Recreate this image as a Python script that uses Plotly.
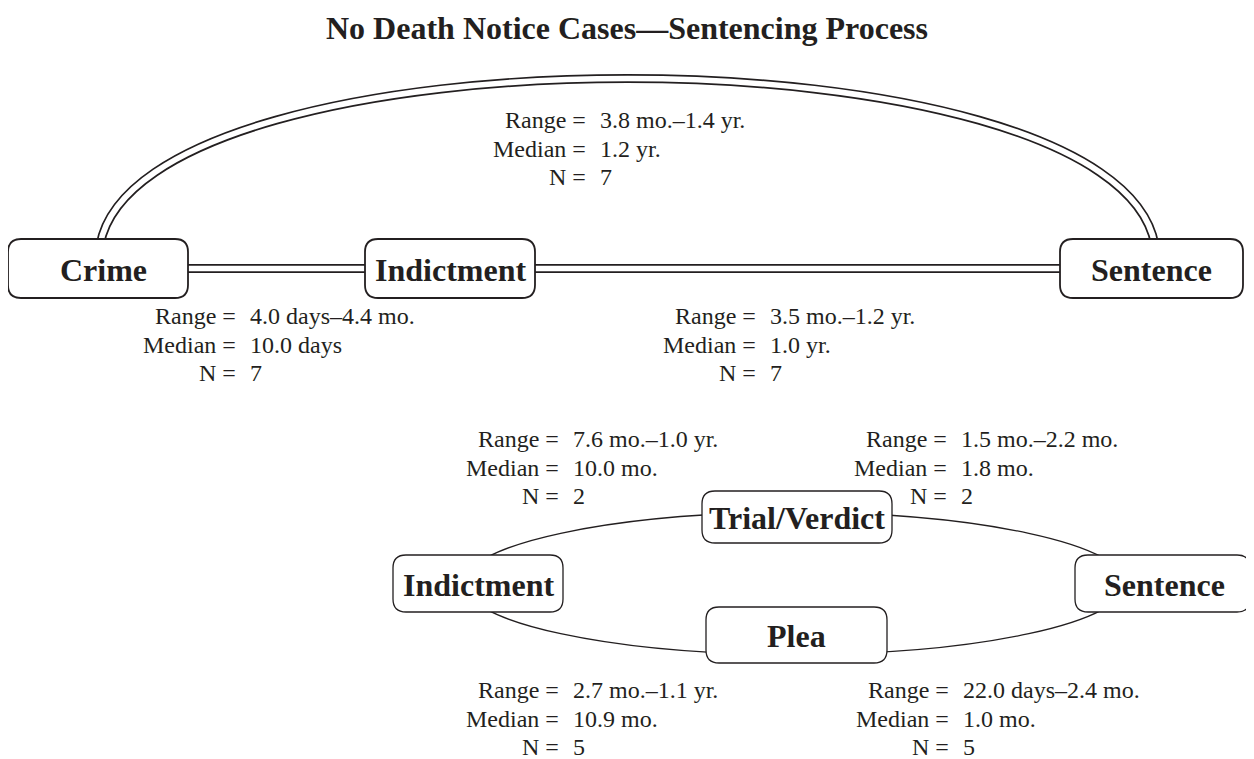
import plotly.graph_objects as go

# ---------------- data ----------------
title_text = "No Death Notice Cases—Sentencing Process"

node_names = ["Crime", "Indictment", "Sentence",
              "Indictment", "Trial/Verdict", "Plea", "Sentence"]

edge_names = ["Crime→Sentence", "Crime→Indictment", "Indictment→Sentence",
              "Indictment→Trial/Verdict", "Trial/Verdict→Sentence",
              "Indictment→Plea", "Plea→Sentence"]
range_vals = ["3.8 mo.–1.4 yr.", "4.0 days–4.4 mo.", "3.5 mo.–1.2 yr.",
              "7.6 mo.–1.0 yr.", "1.5 mo.–2.2 mo.",
              "2.7 mo.–1.1 yr.", "22.0 days–2.4 mo."]
median_vals = ["1.2 yr.", "10.0 days", "1.0 yr.",
               "10.0 mo.", "1.8 mo.",
               "10.9 mo.", "1.0 mo."]
n_vals = [7, 7, 7, 2, 2, 5, 5]

# ---------------- layout (positions in page pixels) ----------------
W, H = 1254, 759
PAGE_OFF = 8  # default body margin of the html page
node_x0 = [8, 365, 1060, 393, 702, 706, 1075]
node_x1 = [188, 535, 1243, 563, 892, 887, 1250]
node_y0 = [239, 239, 239, 555, 491, 607, 555]
node_y1 = [298, 298, 298, 612, 543, 663, 612]
label_dx = [5, 0, 0, 0, 0, 0, 2]

label_eq_x = [588, 238, 758, 561, 949, 561, 951]
label_y = [120, 316, 316, 439, 439, 690, 690]
row_gap = 28.5

INK = "#231f20"
SERIF = "Liberation Serif, Times New Roman, serif"

shapes = []


def rrect(x0, y0, x1, y1, r=13):
    return (f"M{x0 + r},{y0} L{x1 - r},{y0} Q{x1},{y0} {x1},{y0 + r} "
            f"L{x1},{y1 - r} Q{x1},{y1} {x1 - r},{y1} L{x0 + r},{y1} "
            f"Q{x0},{y1} {x0},{y1 - r} L{x0},{y0 + r} Q{x0},{y0} {x0 + r},{y0} Z")


def double_line(path):
    shapes.append(dict(type="path", path=path, xref="x", yref="y",
                       line=dict(color=INK, width=9)))
    shapes.append(dict(type="path", path=path, xref="x", yref="y",
                       line=dict(color="white", width=5.6)))


def cx(i):
    return (node_x0[i] + node_x1[i]) / 2


def cy(i):
    return (node_y0[i] + node_y1[i]) / 2


# top: Crime -> Sentence arc (double)
ax0, ax1 = 100, 1155
arc_top, arc_lean = 23, 40
double_line(f"M{ax0},{node_y0[0] + 6} C{ax0 + arc_lean},{arc_top} "
            f"{ax1 - arc_lean},{arc_top} {ax1},{node_y0[2] + 6}")
# top: horizontal double connectors
double_line(f"M{cx(0)},{cy(0)} L{cx(1)},{cy(1)}")
double_line(f"M{cx(1)},{cy(1)} L{cx(2)},{cy(2)}")

# bottom: single thin elliptical route Indictment -> (Trial/Plea) -> Sentence
ecx = (cx(4) + cx(5)) / 2 - 2
ecy = cy(3)
erx, ery = 331, 71
shapes.append(dict(type="circle", xref="x", yref="y",
                   x0=ecx - erx, x1=ecx + erx, y0=ecy - ery, y1=ecy + ery,
                   line=dict(color=INK, width=1.3)))

# boxes
for i in range(len(node_names)):
    top = i < 3
    shapes.append(dict(type="path", xref="x", yref="y",
                       path=rrect(node_x0[i], node_y0[i], node_x1[i], node_y1[i], 13),
                       fillcolor="white",
                       line=dict(color=INK, width=1.8 if top else 1.3)))

annotations = []
for i, name in enumerate(node_names):
    annotations.append(dict(x=cx(i) + label_dx[i], y=cy(i) + 1, xref="x", yref="y",
                            text=f"<b>{name}</b>", showarrow=False,
                            xanchor="center", yanchor="middle",
                            font=dict(family=SERIF, size=32, color=INK)))

keys = ["Range =", "Median =", "N ="]
for j in range(len(edge_names)):
    vals = [range_vals[j], median_vals[j], str(n_vals[j])]
    for k in range(3):
        yy = label_y[j] + k * row_gap
        annotations.append(dict(x=label_eq_x[j], y=yy, xref="x", yref="y",
                                text=keys[k], showarrow=False,
                                xanchor="right", yanchor="middle",
                                font=dict(family=SERIF, size=24, color=INK)))
        annotations.append(dict(x=label_eq_x[j] + 10, y=yy, xref="x", yref="y",
                                text=vals[k], showarrow=False,
                                xanchor="left", yanchor="middle",
                                font=dict(family=SERIF, size=24, color=INK)))

annotations.append(dict(x=W / 2, y=28, xref="x", yref="y",
                        text=f"<b>{title_text}</b>", showarrow=False,
                        xanchor="center", yanchor="middle",
                        font=dict(family=SERIF, size=32, color=INK)))

fig = go.Figure()
fig.update_layout(
    width=W - PAGE_OFF, height=H - PAGE_OFF,
    margin=dict(l=0, r=0, t=0, b=0),
    paper_bgcolor="white", plot_bgcolor="white",
    xaxis=dict(range=[PAGE_OFF, W], visible=False, fixedrange=True),
    yaxis=dict(range=[H, PAGE_OFF], visible=False, fixedrange=True),
    shapes=shapes, annotations=annotations, showlegend=False,
)
fig.write_html("out.html")
